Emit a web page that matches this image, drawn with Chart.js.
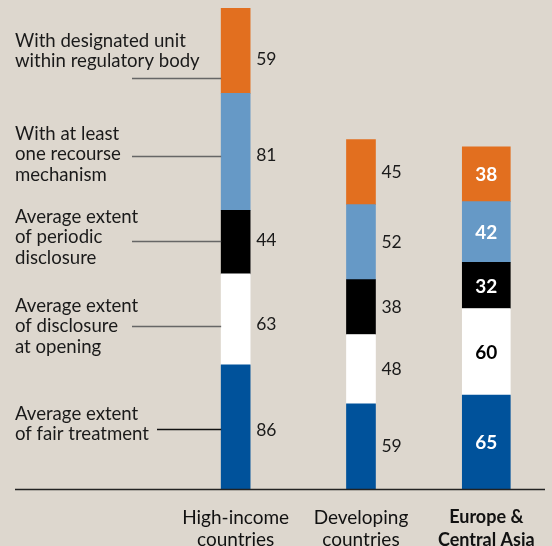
<!DOCTYPE html>
<html>
<head>
<meta charset="utf-8">
<script src="https://cdn.jsdelivr.net/npm/chart.js@4.4.1/dist/chart.umd.min.js"></script>
<style>
  html, body { margin: 0; padding: 0; background: #ddd7ce; }
  #wrap { width: 552px; height: 546px; position: relative; }
</style>
</head>
<body>
<div id="wrap"><canvas id="chart"></canvas></div>
<script>
// Categories (x axis), last one is the highlighted region
const categories = [['High-income', 'countries'], ['Developing', 'countries'], ['Europe &', 'Central Asia']];

// Series, bottom of the stack first
const fairTreatment      = [86, 59, 65];
const disclosureOpening  = [63, 48, 60];
const periodicDisclosure = [44, 38, 32];
const recourse           = [81, 52, 42];
const designatedUnit     = [59, 45, 38];

const seriesLabels = [
    ['Average extent', 'of fair treatment'],
    ['Average extent', 'of disclosure', 'at opening'],
    ['Average extent', 'of periodic', 'disclosure'],
    ['With at least', 'one recourse', 'mechanism'],
    ['With designated unit', 'within regulatory body']
];
const seriesValues = [fairTreatment, disclosureOpening, periodicDisclosure, recourse, designatedUnit];
const seriesColors = ['#00529b', '#ffffff', '#000000', '#6699c6', '#e26f1f'];

const FONT = 'Lato, "Open Sans", sans-serif';
const focusIndex = 2;

// side-label layout (first baseline relative to leader line, leader start x, value nudge)
const leaderShift = [2, 7, -1, 4, 27];
const valueShift  = [3, 5, -2, 3, 9];
const textOffset  = [-10, -15, -19, -17, -32];
const leaderStart = [157, 132, 132, 132, 132];

const datasets = [];
seriesValues.forEach((vals, s) => {
    datasets.push({
        label: seriesLabels[s].join(' '),
        data: vals.map((v, i) => i === focusIndex ? null : v),
        backgroundColor: seriesColors[s],
        barThickness: 29,
        stack: 'all',
        seriesIndex: s,
        focus: false
    });
    datasets.push({
        label: seriesLabels[s].join(' ') + ' (ECA)',
        data: vals.map((v, i) => i === focusIndex ? v : null),
        backgroundColor: seriesColors[s],
        barThickness: 48,
        stack: 'all',
        seriesIndex: s,
        focus: true
    });
});

const annotations = {
    id: 'annotations',
    afterDatasetsDraw(chart) {
        const ctx = chart.ctx;
        const area = chart.chartArea;
        ctx.save();

        // baseline
        ctx.strokeStyle = '#222';
        ctx.lineWidth = 1.5;
        ctx.beginPath();
        ctx.moveTo(15, area.bottom + 0.5);
        ctx.lineTo(545, area.bottom + 0.5);
        ctx.stroke();

        chart.data.datasets.forEach((ds, d) => {
            const meta = chart.getDatasetMeta(d);
            const s = ds.seriesIndex;
            meta.data.forEach((el, i) => {
                const v = ds.data[i];
                if (v === null || v === undefined) return;
                const mid = (el.y + el.base) / 2;
                if (ds.focus) {
                    ctx.font = 'bold 19px ' + FONT;
                    ctx.fillStyle = seriesColors[s] === '#ffffff' ? '#000' : '#fff';
                    ctx.textAlign = 'center';
                    ctx.textBaseline = 'middle';
                    ctx.fillText(String(v), el.x, mid + 1);
                    return;
                }
                ctx.font = '17.5px ' + FONT;
                ctx.fillStyle = '#1a1a1a';
                ctx.textAlign = 'left';
                ctx.textBaseline = 'middle';
                const vy = i === 0 ? mid + valueShift[s] : mid;
                ctx.fillText(String(v), el.x + el.width / 2 + 6, vy);

                if (i === 0) {
                    const ly = Math.round(mid + leaderShift[s]) + 0.5;
                    ctx.strokeStyle = s === 0 ? '#111' : '#666';
                    ctx.lineWidth = 1.3;
                    ctx.beginPath();
                    ctx.moveTo(leaderStart[s], ly);
                    ctx.lineTo(el.x - el.width / 2, ly);
                    ctx.stroke();

                    ctx.font = '18.6px ' + FONT;
                    ctx.fillStyle = '#1a1a1a';
                    ctx.textBaseline = 'alphabetic';
                    seriesLabels[s].forEach((t, k) => {
                        ctx.fillText(t, 15, ly + textOffset[s] + k * 20.5);
                    });
                }
            });
        });
        ctx.restore();
    }
};

new Chart(document.getElementById('chart'), {
    type: 'bar',
    data: { labels: categories, datasets },
    options: {
        responsive: true,
        maintainAspectRatio: false,
        animation: false,
        layout: { padding: { left: 173, right: 2, top: 1, bottom: 0 } },
        plugins: { legend: { display: false }, tooltip: { enabled: false } },
        scales: {
            x: {
                stacked: true,
                offset: true,
                grid: { display: false, drawTicks: false },
                border: { display: false },
                ticks: {
                    padding: 17,
                    color: '#111',
                    maxRotation: 0,
                    autoSkip: false,
                    font: (c) => c.index === focusIndex
                        ? { family: FONT, size: 18, lineHeight: 1.25, weight: 'bold' }
                        : { family: FONT, size: 19, lineHeight: 1.2, weight: 'normal' }
                },
                afterFit: (scale) => { scale.height = 57; }
            },
            y: {
                stacked: true,
                display: false,
                min: 0,
                max: 338
            }
        }
    },
    plugins: [annotations]
});
</script>
</body>
</html>
